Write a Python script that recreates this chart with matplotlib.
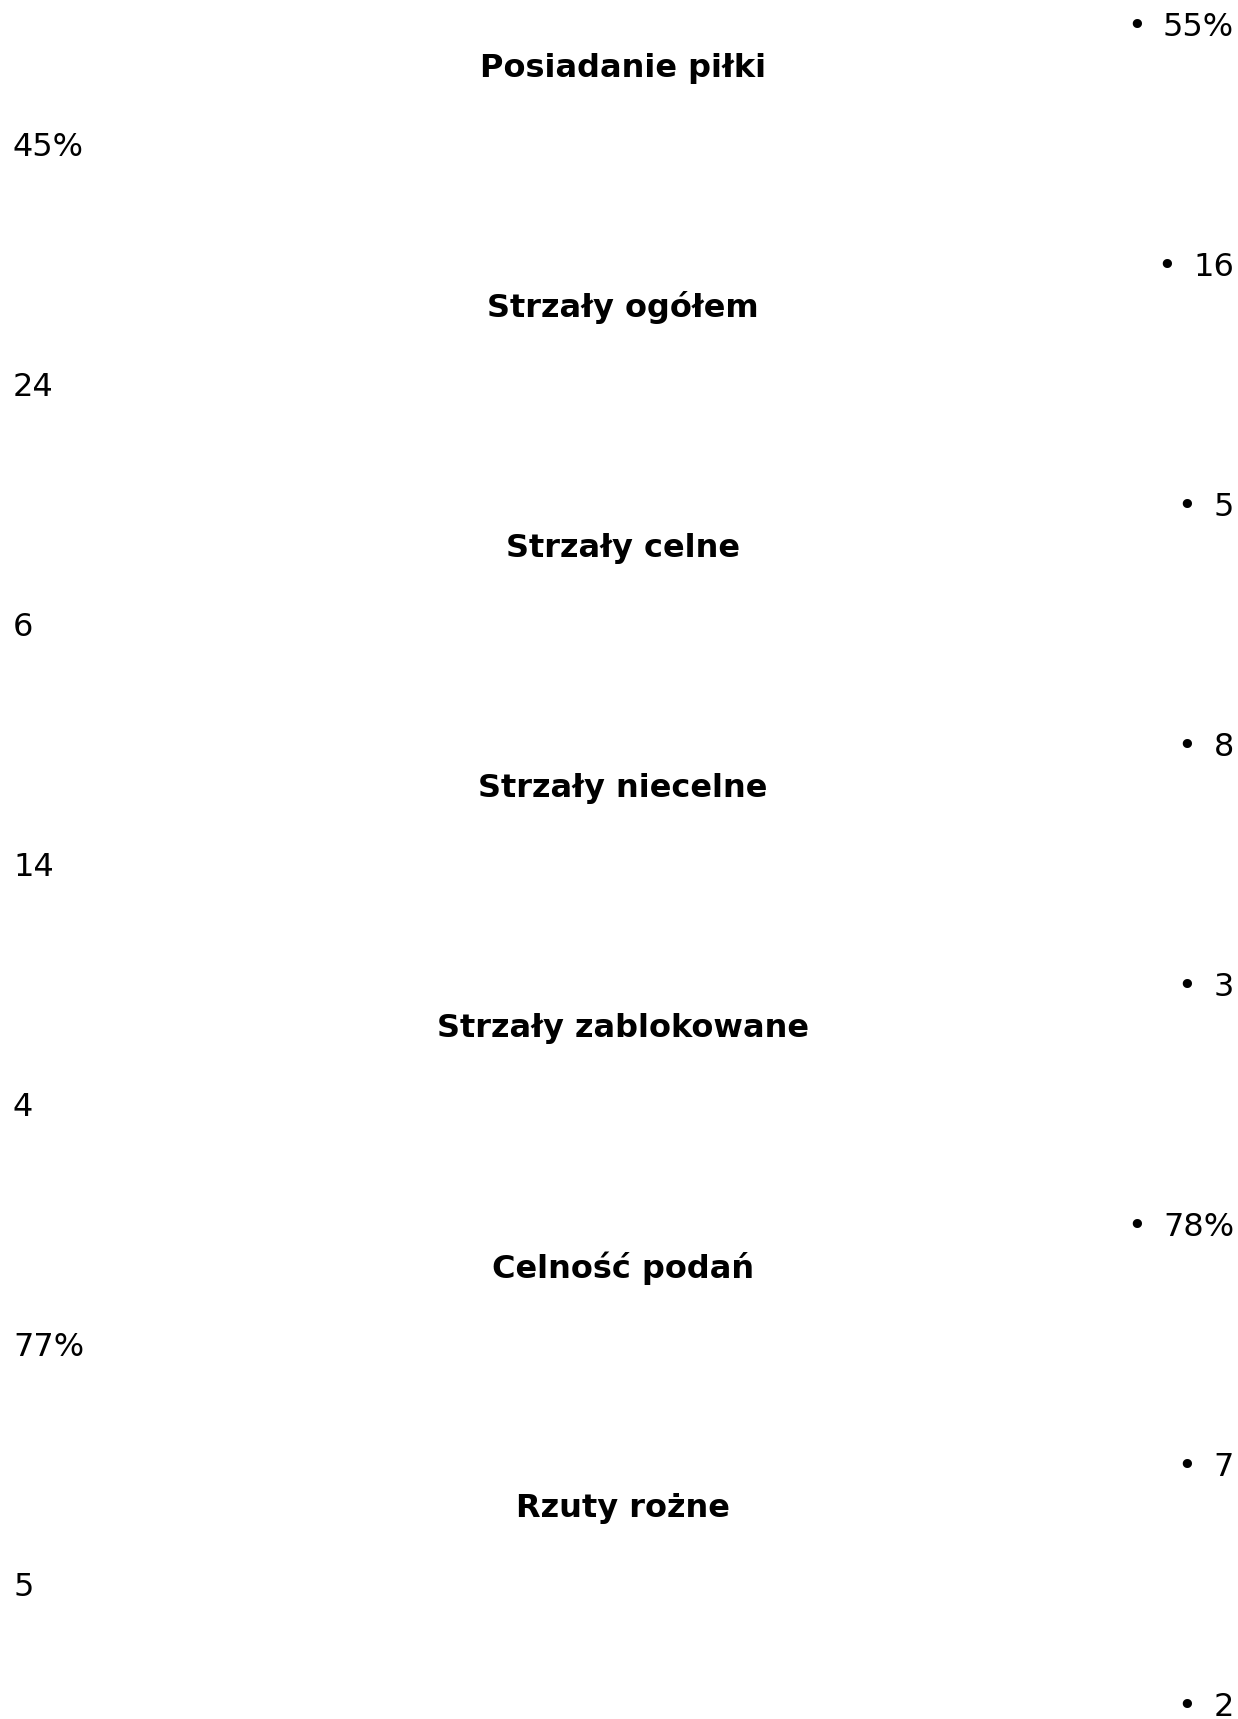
import matplotlib
matplotlib.use("Agg")
import matplotlib.pyplot as plt

categories = ["Posiadanie piłki", "Strzały ogółem", "Strzały celne", "Strzały niecelne",
              "Strzały zablokowane", "Celność podań", "Rzuty rożne"]
home_values = ["45%", "24", "6", "14", "4", "77%", "5"]
away_values = ["55%", "16", "5", "8", "3", "78%", "7", "2"]

W, H = 1238, 1719
fig = plt.figure(figsize=(W / 100, H / 100), dpi=100)
ax = fig.add_axes([0, 0, 1, 1])
ax.set_xlim(0, W)
ax.set_ylim(H, 0)
ax.axis("off")

period = 240.0
fs = 23
top = 27
for i, v in enumerate(away_values):
    y0 = top + period * i
    t = ax.text(1234, y0, v, ha="right", va="center", fontsize=fs, color="black")
    ax.annotate("\u2022", xy=(0, 0.5), xycoords=t, xytext=(-12.5, 0),
                textcoords="offset points", ha="right", va="center",
                fontsize=fs, color="black")
for i, c in enumerate(categories):
    y0 = top + period * i
    ax.text(W / 2 + 4, y0 + 41, c, ha="center", va="center", fontsize=fs,
            fontweight="bold", color="black")
    ax.text(13, y0 + 121, home_values[i], ha="left", va="center", fontsize=fs, color="black")

fig.savefig("out.png", dpi=100)
